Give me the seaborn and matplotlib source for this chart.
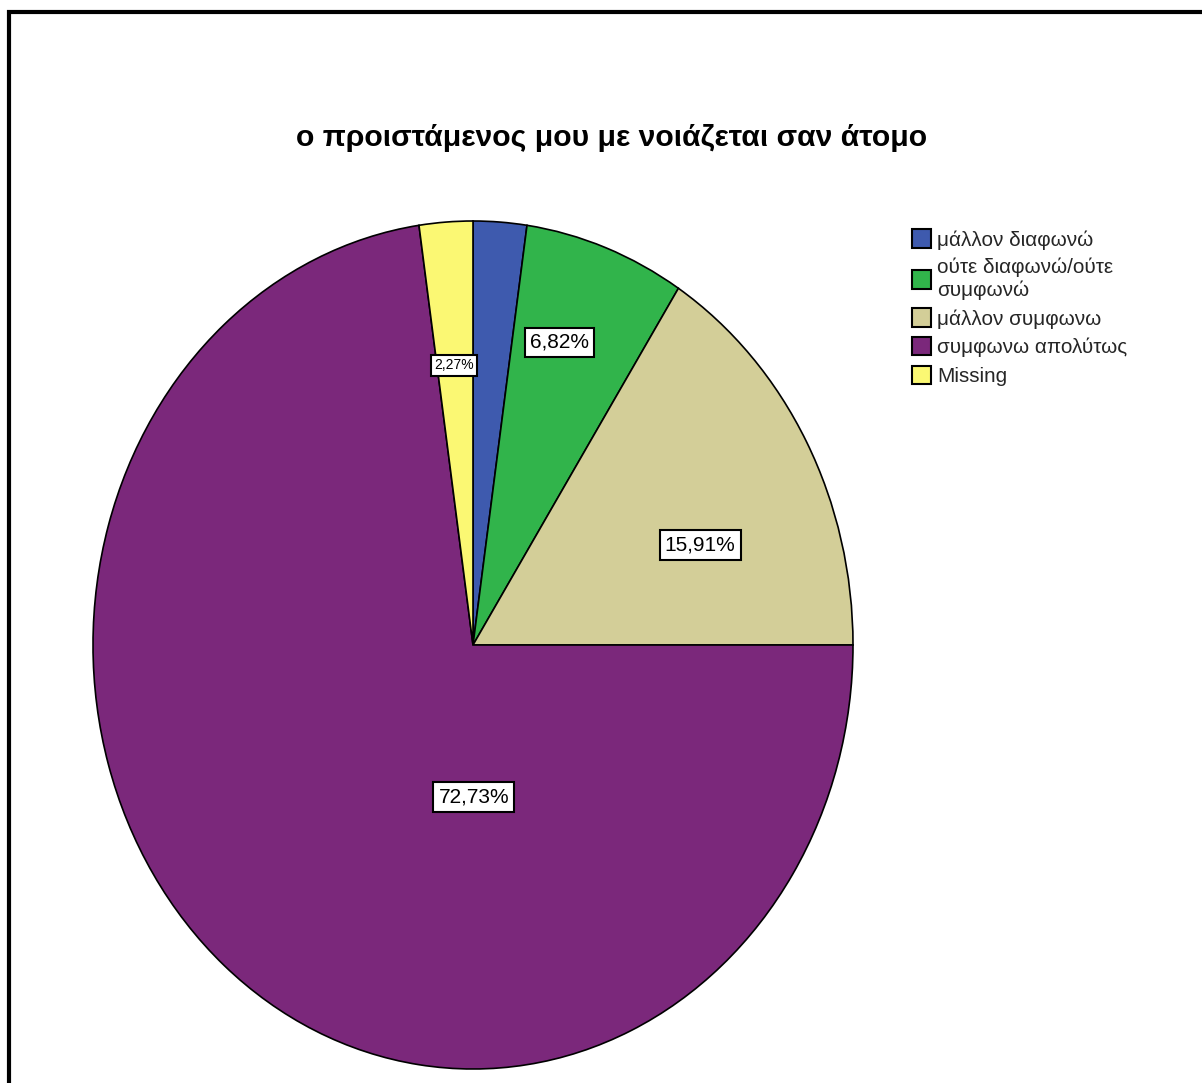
import matplotlib
matplotlib.use("Agg")
import matplotlib.pyplot as plt
from matplotlib.patches import Patch, Rectangle
import seaborn as sns

sns.set_theme(style="white")
plt.rcParams["font.family"] = ["Liberation Sans", "DejaVu Sans"]

# Response categories and their shares (%)
categories = [
    "μάλλον διαφωνώ",
    "ούτε διαφωνώ/ούτε\nσυμφωνώ",
    "μάλλον συμφωνω",
    "συμφωνω απολύτως",
    "Missing",
]
percentages = [2.27, 6.82, 15.91, 72.73, 2.27]
colors = ["#3e5aae", "#31b44b", "#d3ce98", "#7b287b", "#fbf873"]
title = "ο προιστάμενος μου με νοιάζεται σαν άτομο"

# label placement (axes fraction) and font size per slice; None = unlabeled
label_pos = [None, (0.614, 0.857), (0.799, 0.618), (0.501, 0.321), (0.475, 0.830)]
label_size = [None, 15, 15, 15, 10]

W, H = 1202, 1083
fig = plt.figure(figsize=(W / 100, H / 100), dpi=100)
fig.patch.set_facecolor("white")

# elliptical pie: axes box spans the ellipse bounds
cx, cy, rx, ry = 473, 645, 380, 424
ax = fig.add_axes([(cx - rx) / W, 1 - (cy + ry) / H, 2 * rx / W, 2 * ry / H])
wedges, _ = ax.pie(
    percentages,
    colors=colors,
    startangle=90,
    counterclock=False,
    radius=1.0,
    wedgeprops=dict(edgecolor="black", linewidth=1.2),
)
for w in wedges:
    w.set_clip_on(False)
ax.set_aspect("auto")
ax.set_xlim(-1, 1)
ax.set_ylim(-1, 1)
ax.axis("off")

for pct, pos, fs in zip(percentages, label_pos, label_size):
    if pos is None:
        continue
    ax.text(
        pos[0], pos[1], f"{pct:.2f}%".replace(".", ","),
        transform=ax.transAxes, ha="center", va="center", fontsize=fs,
        color="black",
        bbox=dict(boxstyle="square,pad=0.25", facecolor="white",
                  edgecolor="black", linewidth=1.5),
    )

fig.text(612 / W, 1 - 138 / H, title, ha="center", va="center",
         fontsize=21.7, fontweight="bold", color="black")

handles = [Patch(facecolor=c, edgecolor="black", linewidth=1.5) for c in colors]
fig.legend(
    handles, categories,
    loc="upper left", bbox_to_anchor=(904 / W, 1 - 221 / H),
    frameon=False, fontsize=14.9, handlelength=0.9, handleheight=1.0,
    handletextpad=0.3, labelspacing=0.40, borderaxespad=0,
)

# outer frame (left and top edges visible)
fig.add_artist(Rectangle((9 / W, -0.05), 1.1, 1 - 12 / H + 0.05,
                         transform=fig.transFigure, fill=False,
                         edgecolor="black", linewidth=3.0, clip_on=False))

fig.savefig("out.png", dpi=100, facecolor="white")
